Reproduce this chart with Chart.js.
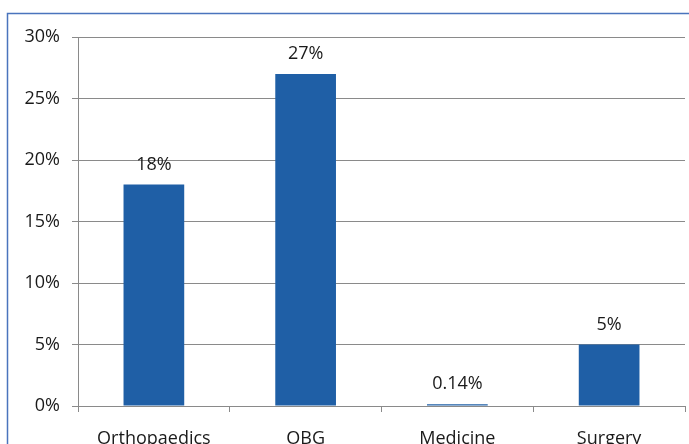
<!DOCTYPE html>
<html>
<head>
<meta charset="utf-8">
<script src="https://cdn.jsdelivr.net/npm/chart.js@4/dist/chart.umd.min.js"></script>
<style>
  html, body { margin: 0; padding: 0; background: #ffffff; }
  #wrap { position: relative; width: 689px; height: 444px; }
</style>
</head>
<body>
<div id="wrap"><canvas id="c" width="689" height="444"></canvas></div>
<script>
// Share of cases by department (percent)
const departments = ['Orthopaedics', 'OBG', 'Medicine', 'Surgery'];
const shares = [18, 27, 0.14, 5];
const shareLabels = ['18%', '27%', '0.14%', '5%'];
const yTicks = [0, 5, 10, 15, 20, 25, 30];

const FONT = '"Open Sans", "Liberation Sans", sans-serif';

// Thin blue frame around the whole figure
const framePlugin = {
  id: 'frame',
  beforeDraw(chart) {
    const ctx = chart.ctx;
    ctx.save();
    ctx.strokeStyle = '#4a74bd';
    ctx.lineWidth = 1.5;
    ctx.strokeRect(7.5, 13.5, 760, 520);
    ctx.restore();
  }
};

// Value labels above each bar
const valueLabelPlugin = {
  id: 'valueLabels',
  afterDatasetsDraw(chart) {
    const ctx = chart.ctx;
    const meta = chart.getDatasetMeta(0);
    ctx.save();
    ctx.font = '18px ' + FONT;
    ctx.fillStyle = '#1a1a1a';
    ctx.textAlign = 'center';
    ctx.textBaseline = 'middle';
    meta.data.forEach((bar, i) => {
      ctx.fillText(shareLabels[i], bar.x, bar.y - 20);
    });
    ctx.restore();
  }
};

new Chart(document.getElementById('c'), {
  type: 'bar',
  data: {
    labels: departments,
    datasets: [{
      data: shares,
      backgroundColor: '#1f5fa6',
      borderWidth: 0,
      barPercentage: 0.8,
      categoryPercentage: 0.5
    }]
  },
  options: {
    responsive: false,
    animation: false,
    devicePixelRatio: 1,
    layout: { padding: { top: 37, right: 4, left: 0, bottom: 0 } },
    plugins: {
      legend: { display: false },
      tooltip: { enabled: false }
    },
    scales: {
      x: {
        offset: true,
        grid: {
          offset: true,
          drawOnChartArea: false,
          drawTicks: true,
          tickLength: 6,
          color: '#8a8a8a'
        },
        border: { display: true, color: '#8a8a8a' },
        ticks: {
          color: '#1a1a1a',
          font: { family: FONT, size: 18 },
          padding: 16,
          maxRotation: 0
        },
        afterFit(scale) { scale.height = 38; }
      },
      y: {
        min: 0,
        max: 30,
        afterBuildTicks(scale) {
          scale.ticks = yTicks.map(v => ({ value: v }));
        },
        grid: {
          color: '#8a8a8a',
          tickLength: 6,
          drawTicks: true
        },
        border: { display: true, color: '#8a8a8a' },
        ticks: {
          color: '#1a1a1a',
          font: { family: FONT, size: 18 },
          padding: 12,
          callback: v => v + '%'
        },
        afterFit(scale) { scale.width = 78; }
      }
    }
  },
  plugins: [framePlugin, valueLabelPlugin]
});
</script>
</body>
</html>
